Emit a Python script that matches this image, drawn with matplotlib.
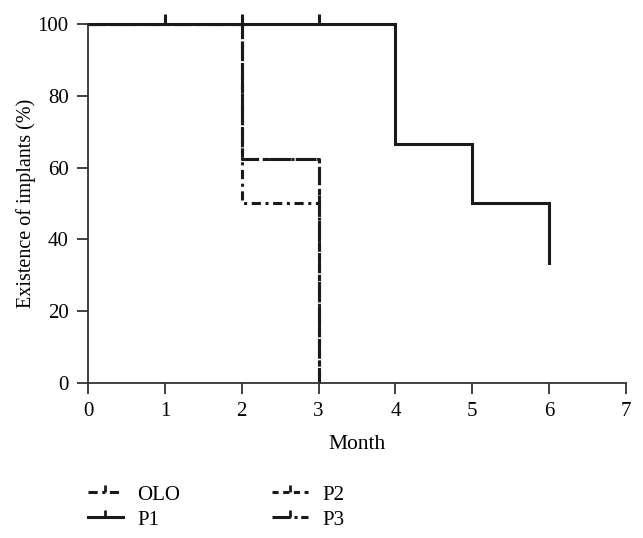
import matplotlib
matplotlib.use("Agg")
import matplotlib.pyplot as plt
from matplotlib.lines import Line2D

plt.rcParams['font.family'] = ['Liberation Serif', 'DejaVu Serif']

# Data (step survival curves)
olo_t = [0, 2, 2, 3, 3]
olo_s = [100, 100, 50, 50, 0]
p1_t = [0, 4, 4, 5, 5, 6, 6]
p1_s = [100, 100, 66.7, 66.7, 50, 50, 33.3]
p2_t = [0, 2, 2, 3, 3]
p2_s = [100, 100, 62.5, 62.5, 0]
p3_t = [0, 2, 2, 3, 3]
p3_s = [100, 100, 62.5, 62.5, 0]
censor_t = [1, 2, 3]
censor_s = [100, 100, 100]

x_ticks = [0, 1, 2, 3, 4, 5, 6, 7]
y_ticks = [0, 20, 40, 60, 80, 100]

fig = plt.figure(figsize=(6.43, 5.38), dpi=100)
ax = fig.add_axes([0.1369, 0.2881, 0.8367, 0.6673])

lw = 2.2
ls_olo = (0, (3, 1.5, 1, 1.5))
ls_p2 = (0, (2, 1.5))
ls_p3 = (0, (6, 1.2, 1, 1.2))

ax.plot(p2_t, p2_s, color='#1a1a1a', lw=lw, ls=ls_p2)
ax.plot(p3_t, p3_s, color='#1a1a1a', lw=lw, ls=ls_p3)
ax.plot(olo_t, olo_s, color='#1a1a1a', lw=lw, ls=ls_olo)
ax.plot(p1_t, p1_s, color='#1a1a1a', lw=lw, ls='-', solid_joinstyle='miter', clip_on=False)
ax.plot(censor_t, censor_s, ls='none', marker=2, ms=7, mew=2.2, color='#1a1a1a', clip_on=False)

ax.set_xlim(0, 7)
ax.set_ylim(0, 100)
ax.set_xticks(x_ticks)
ax.set_yticks(y_ticks)
ax.spines['top'].set_visible(False)
ax.spines['right'].set_visible(False)
for s in ['left', 'bottom']:
    ax.spines[s].set_linewidth(1.3)
    ax.spines[s].set_color('#333333')
ax.tick_params(direction='out', length=8, width=1.3, labelsize=15, color='#333333', pad=6)
ax.set_xlabel('Month', fontsize=15.5, labelpad=10)
ax.set_ylabel('Existence of implants (%)', fontsize=14.5, labelpad=1)

handles = [
    Line2D([0], [0], color='#1a1a1a', lw=lw, ls=ls_olo, marker=2, ms=5, mew=2),
    Line2D([0], [0], color='#1a1a1a', lw=lw, ls='-', marker=2, ms=5, mew=2),
    Line2D([0], [0], color='#1a1a1a', lw=lw, ls=ls_p2, marker=2, ms=5, mew=2),
    Line2D([0], [0], color='#1a1a1a', lw=lw, ls=ls_p3, marker=2, ms=5, mew=2),
]
labels = ['OLO', 'P1', 'P2', 'P3']
fig.legend(handles, labels, ncol=2, loc='upper left', bbox_to_anchor=(0.107, 0.133),
           frameon=False, fontsize=15, handlelength=1.7, handletextpad=0.7,
           columnspacing=4.4, labelspacing=0.25, numpoints=1)

fig.savefig('out.png', dpi=100)
